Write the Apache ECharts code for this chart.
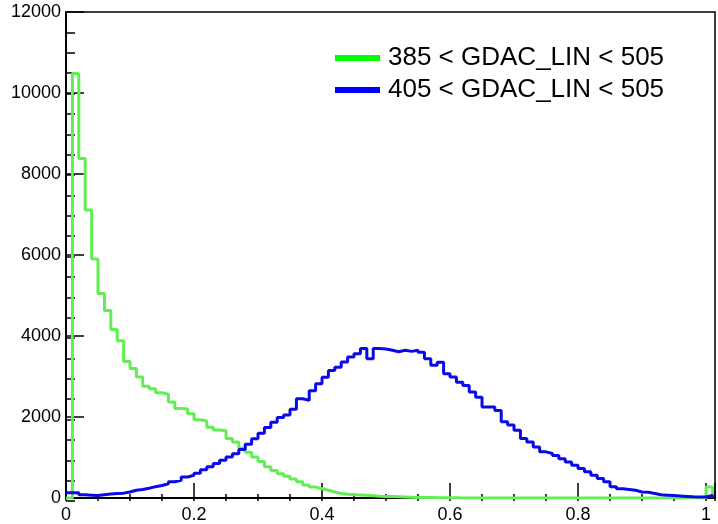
<!DOCTYPE html>
<html>
<head>
<meta charset="utf-8">
<script src="https://cdn.jsdelivr.net/npm/echarts@6/dist/echarts.min.js"></script>
<style>
html,body{margin:0;padding:0;background:#fff;}
#chart{width:718px;height:524px;}
</style>
</head>
<body>
<div id="chart"></div>
<script>
// Histogram binning (bin low edge = index * binWidth)
const binWidth = 0.01;
const seriesNames = ['385 < GDAC_LIN < 505', '405 < GDAC_LIN < 505'];
const xTickLabels = ['0', '0.2', '0.4', '0.6', '0.8', '1'];
const yTickLabels = ['0', '2000', '4000', '6000', '8000', '10000', '12000'];

// Counts per bin
const greenCounts = [
  0, 10480, 8380, 7110, 5900, 5050, 4630, 4160, 3880, 3370,
  3200, 2990, 2760, 2700, 2600, 2560, 2370, 2210, 2200, 2080,
  1930, 1900, 1750, 1680, 1660, 1470, 1380, 1230, 1130, 1010,
  900, 770, 680, 600, 540, 470, 400, 320, 270, 230,
  190, 150, 110, 95, 85, 75, 65, 55, 45, 40,
  35, 30, 25, 20, 15, 12, 10, 8, 6, 5,
  4, 3, 2, 2, 1, 1, 1, 1, 0, 0,
  0, 0, 0, 0, 0, 0, 0, 0, 0, 0,
  0, 0, 0, 0, 0, 0, 0, 0, 0, 0,
  0, 0, 0, 0, 0, 0, 0, 0, 0, 0,
  270
];
const blueCounts = [
  130, 130, 80, 70, 60, 80, 100, 110, 120, 150,
  190, 210, 240, 280, 310, 350, 400, 440, 520, 560,
  610, 700, 770, 850, 930, 1010, 1090, 1200, 1330, 1460,
  1600, 1740, 1870, 1990, 2050, 2190, 2450, 2410, 2650, 2820,
  2980, 3150, 3230, 3360, 3480, 3560, 3690, 3440, 3690, 3680,
  3650, 3610, 3650, 3620, 3650, 3600, 3440, 3280, 3350, 3070,
  2990, 2860, 2780, 2620, 2490, 2250, 2250, 2160, 1880, 1800,
  1670, 1470, 1380, 1260, 1140, 1100, 1050, 970, 890, 810,
  730, 650, 560, 480, 400, 280, 230, 210, 190, 150,
  140, 110, 80, 70, 60, 50, 40, 30, 25, 25,
  60
];

function stepData(counts) {
  const d = counts.map((v, i) => [i * binWidth, v]);
  d.push([counts.length * binWidth, 0]);
  return d;
}

const X_MAX = 1.014, Y_MAX = 12000;
const font = '"Liberation Sans", Arial, Helvetica, sans-serif';
const gridBox = {left: 66, right: 3, top: 12, bottom: 23};

function xFmt(v) {
  const idx = Math.round(v / 0.2);
  return Math.abs(v - idx * 0.2) < 1e-6 && idx < xTickLabels.length ? xTickLabels[idx] : '';
}
function yFmt(v) {
  const idx = Math.round(v / 2000);
  return Math.abs(v - idx * 2000) < 1e-6 && idx < yTickLabels.length ? yTickLabels[idx] : '';
}

const chart = echarts.init(document.getElementById('chart'), null, {renderer: 'canvas'});
chart.setOption({
  animation: false,
  backgroundColor: '#fff',
  grid: [
    Object.assign({show: true, borderColor: '#000', borderWidth: 1.5, backgroundColor: 'transparent'}, gridBox),
    Object.assign({show: false}, gridBox)
  ],
  legend: {
    orient: 'vertical', left: 335, top: 45, padding: 0, itemGap: 6,
    itemWidth: 45, itemHeight: 6, icon: 'rect',
    textStyle: {fontFamily: font, fontSize: 26, color: '#000', padding: [0, 0, 0, 3]},
    data: [
      {name: seriesNames[0], itemStyle: {color: '#00ff00'}},
      {name: seriesNames[1], itemStyle: {color: '#0000ff'}}
    ]
  },
  xAxis: [
    {type: 'value', gridIndex: 0, min: 0, max: X_MAX, interval: 0.2, position: 'bottom',
     axisLine: {show: true, onZero: false, lineStyle: {color: '#000', width: 2}},
     axisTick: {show: true, inside: true, length: 15, lineStyle: {color: '#000', width: 1.5}},
     axisLabel: {show: true, formatter: xFmt, color: '#000', fontFamily: font, fontSize: 18, margin: 8},
     splitLine: {show: false}},
    {type: 'value', gridIndex: 1, min: 0, max: X_MAX, interval: 0.05, position: 'bottom',
     axisLine: {show: false, onZero: false}, axisLabel: {show: false}, splitLine: {show: false},
     axisTick: {show: true, inside: true, length: 7, lineStyle: {color: '#000', width: 1.5}}}
  ],
  yAxis: [
    {type: 'value', gridIndex: 0, min: 0, max: Y_MAX, interval: 2000, position: 'left',
     axisLine: {show: true, onZero: false, lineStyle: {color: '#000', width: 2}},
     axisTick: {show: true, inside: true, length: 18, lineStyle: {color: '#000', width: 1.5}},
     axisLabel: {show: true, formatter: yFmt, color: '#000', fontFamily: font, fontSize: 18, margin: 5},
     splitLine: {show: false}},
    {type: 'value', gridIndex: 1, min: 0, max: Y_MAX, interval: 500, position: 'left',
     axisLine: {show: false, onZero: false}, axisLabel: {show: false}, splitLine: {show: false},
     axisTick: {show: true, inside: true, length: 9, lineStyle: {color: '#000', width: 1.5}}}
  ],
  series: [
    {name: seriesNames[0], type: 'line', step: 'end', xAxisIndex: 0, yAxisIndex: 0,
     data: stepData(greenCounts), showSymbol: false, symbol: 'none', clip: true,
     lineStyle: {color: '#62ee52', width: 3}, itemStyle: {color: '#00ff00'}},
    {name: seriesNames[1], type: 'line', step: 'end', xAxisIndex: 0, yAxisIndex: 0,
     data: stepData(blueCounts), showSymbol: false, symbol: 'none', clip: true,
     lineStyle: {color: '#0a0ae6', width: 3}, itemStyle: {color: '#0000ff'}}
  ]
});
</script>
</body>
</html>
